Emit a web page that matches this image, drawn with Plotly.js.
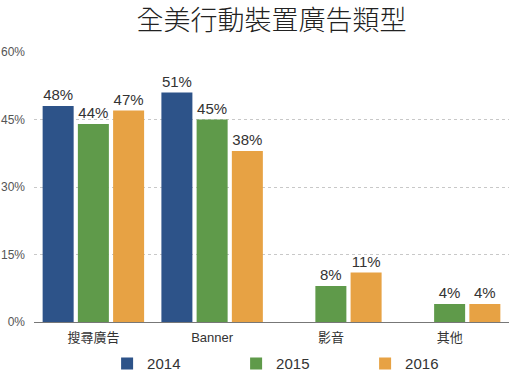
<!DOCTYPE html>
<html>
<head>
<meta charset="utf-8">
<script src="https://cdn.plot.ly/plotly-3.0.1.min.js"></script>
<style>html,body{margin:0;padding:0;background:#fff;}#chart{width:510px;height:372px;}</style>
</head>
<body>
<div id="chart"></div>
<script>
const categories = ['搜尋廣告', 'Banner', '影音', '其他'];
const seriesNames = ['2014', '2015', '2016'];
const values2014 = [48, 51, null, null];
const values2015 = [44, 45, 8, 4];
const values2016 = [47, 38, 11, 4];
const yTicks = [0, 15, 30, 45, 60];
const titleText = '全美行動裝置廣告類型';

const colors = ['#2d5389', '#5f9a4a', '#e7a244'];
const allValues = [values2014, values2015, values2016];
const font = '"Liberation Sans", "Noto Sans CJK TC", sans-serif';
const titleFont = '"Noto Sans CJK TC", sans-serif';

const traces = allValues.map((vals, i) => ({
  type: 'bar',
  name: seriesNames[i],
  x: categories,
  y: vals,
  marker: {color: colors[i], line: {width: 0}},
  text: vals.map(v => v == null ? '' : v + '%'),
  texttemplate: '%{text}',
  textposition: 'outside',
  textfont: {family: font, size: 15, color: '#333'},
  cliponaxis: false,
  hoverinfo: 'none'
}));

const layout = {
  width: 510, height: 372,
  margin: {l: 34, r: 1, t: 52, b: 50},
  paper_bgcolor: '#fff', plot_bgcolor: '#fff',
  title: {text: titleText, font: {family: titleFont, size: 27, color: '#222', weight: 300}, x: 0.5, xref: 'paper', y: 0.945, yref: 'container', yanchor: 'middle'},
  barmode: 'group',
  bargap: 0.11,
  bargroupgap: 0.12,
  showlegend: true,
  legend: {orientation: 'h', xref: 'container', yref: 'container', x: 0.21, xanchor: 'left', y: 0.022, yanchor: 'middle',
           bgcolor: 'rgba(0,0,0,0)',
           entrywidth: 84, entrywidthmode: 'pixels', font: {family: font, size: 15, color: '#333'}, itemwidth: 30},
  xaxis: {
    type: 'category',
    showgrid: false,
    showline: true, linecolor: '#777', linewidth: 1,
    ticks: '', ticklabelstandoff: 3, tickfont: {family: font, size: 13, color: '#333'},
    fixedrange: true
  },
  yaxis: {
    range: [0, 60],
    tickvals: yTicks,
    ticktext: yTicks.map(v => v + '%'),
    showgrid: true, gridcolor: '#c8c8c8', griddash: 'dot', gridwidth: 1,
    zeroline: false,
    showline: false,
    ticks: '', ticklabelstandoff: 8,
    tickfont: {family: font, size: 12, color: '#555'},
    fixedrange: true
  }
};

Plotly.newPlot('chart', traces, layout, {displayModeBar: false, staticPlot: true});
</script>
</body>
</html>
